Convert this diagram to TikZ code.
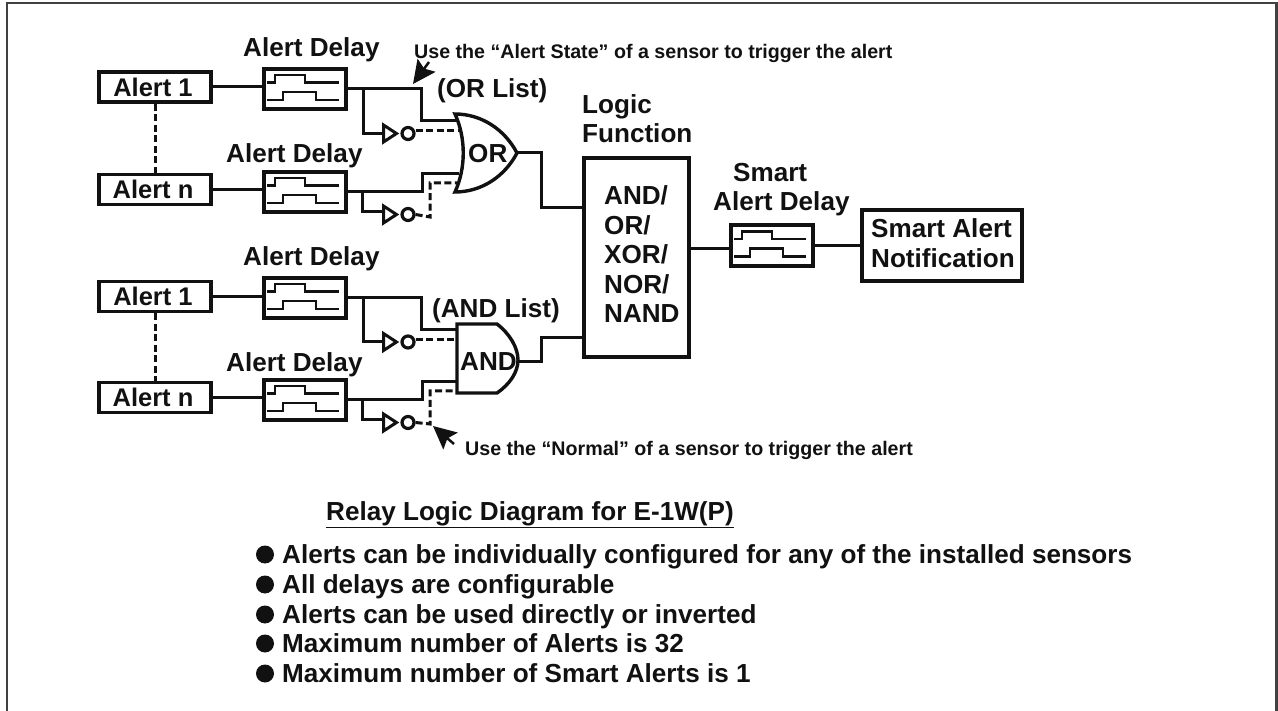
\documentclass[tikz,border=0pt]{standalone}
\usepackage{fontspec}
\setmainfont{Liberation Sans}[BoldFont={Liberation Sans Bold}]
\usetikzlibrary{shapes.geometric,arrows.meta}
\definecolor{ink}{HTML}{111111}
\tikzset{
  wire/.style={line width=3pt,color=ink,line join=miter},
  dwire/.style={wire,dash pattern=on 7pt off 3.5pt},
  box/.style={draw=ink,line width=3.5pt,rectangle,inner sep=0pt,font=\bfseries\fontsize{25.5}{28}\selectfont,text=ink},
  dbox/.style={box,minimum width=82pt,minimum height=40pt},
  ablock/.style={box,minimum width=112pt,minimum height=30pt},
  lab/.style={anchor=base west,inner sep=0pt,text=ink,font=\bfseries\fontsize{26.1}{28}\selectfont},
  note/.style={anchor=base west,inner sep=0pt,text=ink,font=\bfseries\fontsize{19.65}{22}\selectfont},
  bul/.style={anchor=base west,inner sep=0pt,text=ink,font=\bfseries\fontsize{26.1}{30}\selectfont},
  dot/.style={circle,fill=ink,inner sep=0pt,minimum size=18pt},
  tri/.style={isosceles triangle,isosceles triangle stretches,shape border rotate=0,draw=ink,line width=3pt,inner sep=0pt,minimum width=17pt,minimum height=13pt,fill=white,anchor=lower side},
  bub/.style={circle,draw=ink,line width=3.2pt,inner sep=0pt,minimum size=12pt,fill=white,anchor=west},
  bigarrow/.style={line width=2.5pt,color=ink,-{Stealth[length=23pt,width=22pt,inset=4pt]}},
  wave/.pic={
    \draw[line width=2.6pt,color=ink] (-38,-6.5)--(-30,-6.5)--(-30,-14)--(0,-14)--(0,-6.5)--(34,-6.5);
    \draw[line width=2.6pt,color=ink] (-38,11)--(-22,11)--(-22,3)--(11,3)--(11,11)--(34,11);
  }
}
\begin{document}
\begin{tikzpicture}[x=1pt,y=-1pt]
\useasboundingbox (0,0) rectangle (1278,711);
% frame
\draw[line width=2.8pt,color=ink!80] (7,711)--(7,3)--(1276.5,3)--(1276.5,711);

% alert blocks
\node[ablock] (a1) at (155,87) {\hspace{-4pt}Alert 1};
\node[ablock] (an) at (155,189.5) {\hspace{-4pt}Alert n};
\node[ablock] (b1) at (155,296.5) {\hspace{-4pt}Alert 1};
\node[ablock] (bn) at (155,397.5) {\hspace{-4pt}Alert n};
\draw[dwire] (a1) -- (an);
\draw[dwire] (b1) -- (bn);

% delays
\node[dbox] (d1) at (305,89) {};
\node[dbox] (d2) at (305,192) {};
\node[dbox] (d3) at (305,298) {};
\node[dbox] (d4) at (305,400) {};
\node[dbox,minimum height=41pt] (d5) at (772,245.5) {};
\foreach \d in {d1,d2,d3,d4,d5} \path (\d.center) pic {wave};

\draw[wire] (a1.east) -- (d1.west |- a1.east);
\draw[wire] (an.east) -- (d2.west |- an.east);
\draw[wire] (b1.east) -- (d3.west |- b1.east);
\draw[wire] (bn.east) -- (d4.west |- bn.east);

% named pins
\coordinate (or1) at (458,121);
\coordinate (or1d) at (460,131);
\coordinate (or2) at (459,174);
\coordinate (or2d) at (457,183);
\coordinate (orout) at (517,153);
\coordinate (an1) at (457,330);
\coordinate (an1d) at (457,340);
\coordinate (an2) at (458,382);
\coordinate (an2d) at (457,391);
\coordinate (anout) at (518,362);

% inverters
\node[tri] (t1) at (382,133.5) {};
\node[bub] (c1) at (t1.apex) {};
\node[tri] (t2) at (382,214.5) {};
\node[bub] (c2) at (t2.apex) {};
\node[tri] (t3) at (382,342) {};
\node[bub] (c3) at (t3.apex) {};
\node[tri] (t4) at (382,422.5) {};
\node[bub] (c4) at (t4.apex) {};

% logic function and outputs
\node[box,minimum width=105pt,minimum height=199pt] (lf) at (636.5,257.5) {};
\node[box,minimum width=160pt,minimum height=71pt] (sn) at (942,245.5) {};
\draw[wire] (lf.east |- 0,249) -- (d5.west |- 0,249);
\draw[wire] (d5.east |- sn.west) -- (sn.west);

% upper inputs
\draw[wire] (d1.east) -- (421,89) -- (421,121) -- (or1);
\draw[wire] (363,89) |- (t1.lower side);
\draw[dwire] (c1.east |- or1d) -- (or1d);
\draw[wire] (d2.east) -- (422,192) -- (422,174) -- (or2);
\draw[wire] (362,192) |- (t2.lower side |- 0,211.5);
\draw[dwire] (c2.east) -- (430,217) -- (430,183) -- (or2d);

\draw[wire] (d3.east) -- (421,298) -- (421,330) -- (an1);
\draw[wire] (363,298) |- (t3.lower side);
\draw[dwire] (c3.east |- an1d) -- (an1d);
\draw[wire] (d4.east) -- (422,400) -- (422,382) -- (an2);
\draw[wire] (362,400) |- (t4.lower side |- 0,420);
\draw[dwire] (c4.east) -- (430,424) -- (430,391) -- (an2d);

% gates
\draw[wire,line width=3.4pt,fill=white,line join=miter]
  (455,114) .. controls (466,138) and (466,168) .. (455,192)
  .. controls (482,192) and (505,176) .. (517,153)
  .. controls (505,130) and (482,114) .. (455,114) -- cycle;
\draw[wire,line width=3.4pt,fill=white]
  (457,324) -- (497,324) .. controls (510,334) and (518,348) .. (518,360)
  .. controls (518,372) and (510,384) .. (497,393) -- (457,393) -- cycle;

\draw[wire] (orout) -- (541,153) -- (541,208) -- (lf.west |- 0,208);
\draw[wire] (anout) -- (541,362) -- (541,338) -- (lf.west |- 0,338);

% arrows
\coordinate (ua) at (429,62);
\coordinate (ub) at (413,84);
\coordinate (la) at (454,444);
\coordinate (lb) at (433,426);
\draw[bigarrow] (ua) -- (ub);
\draw[bigarrow] (la) -- (lb);

% labels
\node[lab] (l1) at (243,57) {Alert Delay};
\node[lab] (l2) at (226,163) {Alert Delay};
\node[lab] (l3) at (243,266) {Alert Delay};
\node[lab] (l4) at (226,372) {Alert Delay};
\node[lab] (ol) at (437,98) {(OR List)};
\node[lab] (al) at (432,318) {(AND List)};
\node[lab] (org) at (468,163) {OR};
\node[lab] (ang) at (460,371) {AND};
\node[lab] (lg1) at (582,114) {Logic};
\node[lab] (lg2) at (582,143) {Function};
\node[lab] (f1) at (604,205) {AND/};
\node[lab] (f2) at (604,235) {OR/};
\node[lab] (f3) at (604,264) {XOR/};
\node[lab] (f4) at (604,294) {NOR/};
\node[lab] (f5) at (604,323) {NAND};
\node[lab] (s1) at (733,182) {Smart};
\node[lab] (s2) at (713,211) {Alert Delay};
\node[lab] (s3) at (871,238) {Smart Alert};
\node[lab] (s4) at (871,268) {Notification};
\node[note] (n1) at (414,59) {Use the “Alert State” of a sensor to trigger the alert};
\node[note] (n2) at (465,455) {Use the “Normal” of a sensor to trigger the alert};
\node[lab] (ti) at (326,520) {\underline{Relay Logic Diagram for E-1W(P)}};

\foreach \i/\y/\t in {1/563/Alerts can be individually configured for any of the installed sensors,
  2/593/All delays are configurable,
  3/623/Alerts can be used directly or inverted,
  4/652/Maximum number of Alerts is 32,
  5/682/Maximum number of Smart Alerts is 1}{
  \node[dot] (p\i) at (265,\y-8.5) {};
  \node[bul] (q\i) at (282,\y) {\t};
}
\end{tikzpicture}
\end{document}
